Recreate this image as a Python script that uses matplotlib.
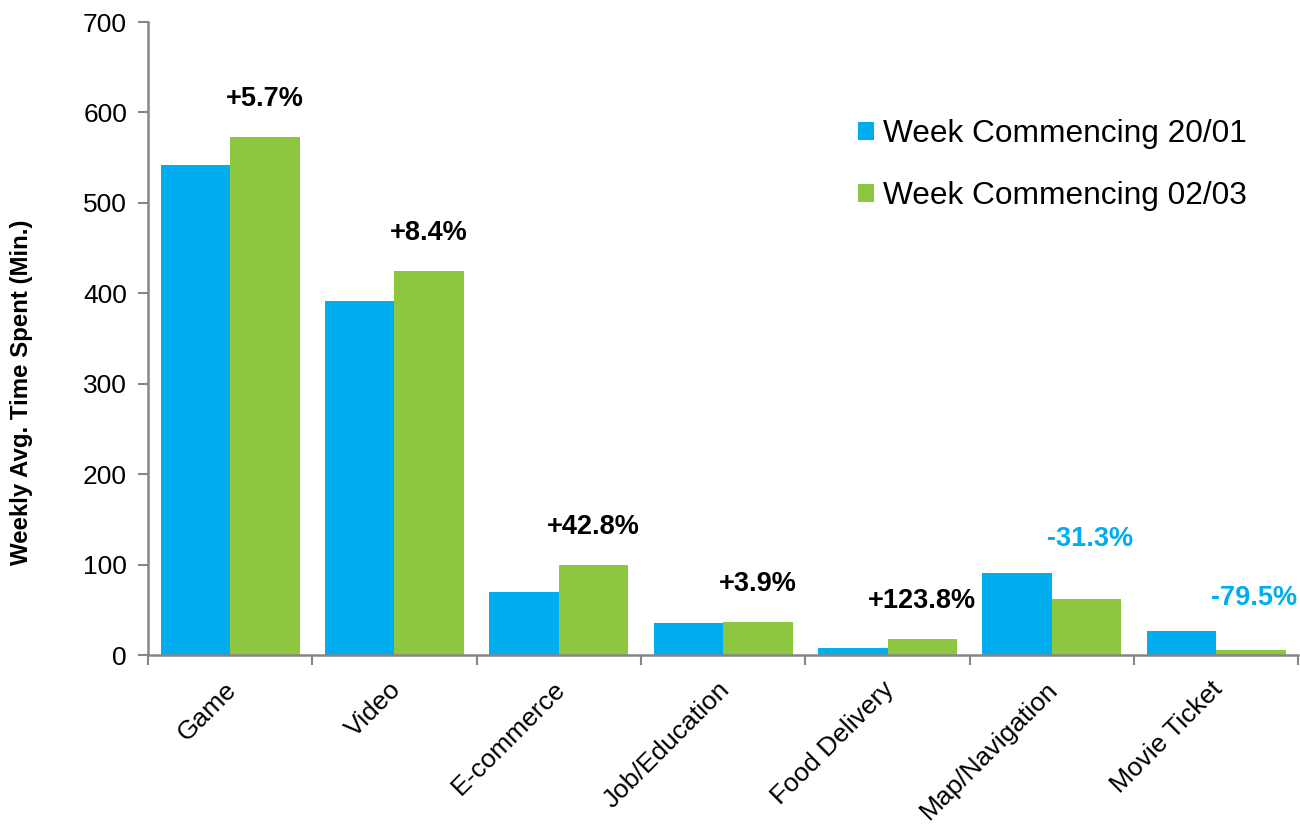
import numpy as np
import matplotlib
matplotlib.use('Agg')
import matplotlib.pyplot as plt
import matplotlib.transforms as mtransforms

plt.rcParams['font.family'] = ['Liberation Sans', 'DejaVu Sans']

categories = ['Game', 'Video', 'E-commerce', 'Job/Education', 'Food Delivery',
              'Map/Navigation', 'Movie Ticket']
week_2001 = [542, 392, 70, 35.4, 8.0, 91, 26.5]
week_0203 = [573, 425, 100, 36.8, 17.9, 62.5, 5.4]
pct_change = ['+5.7%', '+8.4%', '+42.8%', '+3.9%', '+123.8%', '-31.3%', '-79.5%']

BLUE = '#00AEEF'
GREEN = '#8DC63F'
AXIS_GREY = '#868686'

fig = plt.figure(figsize=(13, 8.25), dpi=100)
ax = fig.add_axes([0.1138, 0.206, 0.885, 0.7673])

x = np.arange(len(categories))
w = 0.423
ax.bar(x - w / 2, week_2001, w, color=BLUE, label='Week Commencing 20/01')
ax.bar(x + w / 2, week_0203, w, color=GREEN, label='Week Commencing 02/03')

# change labels above each pair, blue when negative
for i, txt in enumerate(pct_change):
    top = max(week_2001[i], week_0203[i])
    neg = txt.startswith('-')
    col = BLUE if neg else 'black'
    xc = x[i] + 0.23 if neg else x[i] + w / 2
    ax.text(xc, top + (37 if neg else 42), txt, ha='center', va='center',
            color=col, fontsize=19.5, fontweight='bold')

ax.set_xlim(-0.5, len(categories) - 0.5)
ax.set_ylim(0, 700)
ax.set_yticks(np.arange(0, 701, 100))
ax.tick_params(axis='y', labelsize=19, direction='out', length=7,
               color=AXIS_GREY, width=1.5, pad=8)

ax.set_xticks(x)
ax.set_xticklabels(categories, rotation=45, ha='right', rotation_mode='anchor',
                   fontsize=19)
ax.tick_params(axis='x', which='major', length=0, pad=16)
shift = mtransforms.ScaledTranslation(-6 / 100, 0, fig.dpi_scale_trans)
for lbl in ax.get_xticklabels():
    lbl.set_transform(lbl.get_transform() + shift)
ax.set_xticks(np.arange(-0.5, len(categories)), minor=True)
ax.tick_params(axis='x', which='minor', direction='out', length=7,
               color=AXIS_GREY, width=1.5)

for side in ('top', 'right'):
    ax.spines[side].set_visible(False)
for side in ('left', 'bottom'):
    ax.spines[side].set_color(AXIS_GREY)
    ax.spines[side].set_linewidth(1.8)

ax.set_ylabel('Weekly Avg. Time Spent (Min.)', fontsize=17.3, fontweight='bold')
ax.yaxis.set_label_coords(-0.1, 0.415)

ax.legend(loc='upper left', bbox_to_anchor=(0.5926, 0.891), frameon=False,
          fontsize=22.75, handlelength=0.5, handleheight=0.5,
          handletextpad=0.3, labelspacing=1.0)

fig.savefig('out.png', dpi=100)
